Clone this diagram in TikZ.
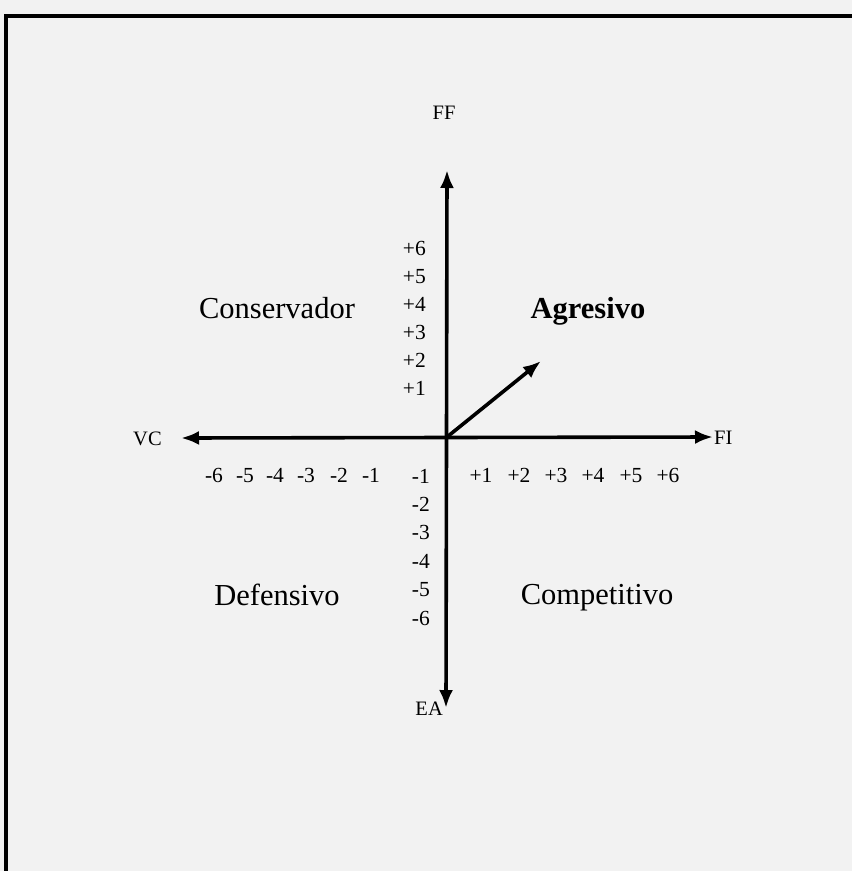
\documentclass[tikz,border=0pt]{standalone}
\usepackage{fontspec}
\setmainfont{Liberation Serif}
\usetikzlibrary{arrows.meta}
\begin{document}
\begin{tikzpicture}[x=1pt,y=-1pt,
  axis/.style={line width=3.6pt,{Latex[length=18pt,width=14pt]}-{Latex[length=18pt,width=14pt]}},
  oneway/.style={line width=3.6pt,-{Latex[length=18pt,width=14pt]}},
  ticklbl/.style={inner sep=0pt,text height=14.5pt,text depth=0.5pt,font=\fontsize{21.5}{21.5}\selectfont},
  axislbl/.style={inner sep=0pt,text height=14pt,text depth=0pt,font=\fontsize{20.5}{20.5}\selectfont},
  quad/.style={inner sep=0pt,anchor=base,font=\fontsize{30.5}{30.5}\selectfont},
  frameline/.style={line width=3.8pt}]
\fill[black!5] (0,0) rectangle (852,871);
\useasboundingbox (0,0) rectangle (852,871);
% frame
\coordinate (fTR) at (852,16);
\coordinate (fTL) at (6,16);
\coordinate (fBL) at (6,871);
\draw[frameline] (fTR) -- (fTL) -- (fBL);
% axes
\coordinate (O) at (447,437);
\coordinate (top) at (447,170);
\coordinate (bot) at (446,708);
\coordinate (left) at (181,438);
\coordinate (right) at (713,437);
\coordinate (vec) at (541,361);
\draw[axis] (left) -- (right);
\draw[axis] (top) -- (bot);
\draw[oneway] (O) -- (vec);
% axis labels
\node[axislbl] (FF) at (444,112) {FF};
\node[axislbl,anchor=west] (VC) at (133,438) {VC};
\node[axislbl,anchor=west] (FI) at (714,437) {FI};
\node[axislbl,anchor=east] (EA) at (443,708) {EA};
% vertical ticks
\node[ticklbl,anchor=east] (p6) at (426,248) {+6};
\node[ticklbl,anchor=east] (p5) at (426,276) {+5};
\node[ticklbl,anchor=east] (p4) at (426,304) {+4};
\node[ticklbl,anchor=east] (p3) at (426,332) {+3};
\node[ticklbl,anchor=east] (p2) at (426,360) {+2};
\node[ticklbl,anchor=east] (p1) at (426,388) {+1};
\node[ticklbl,anchor=east] (m1) at (430,476) {-1};
\node[ticklbl,anchor=east] (m2) at (430,504) {-2};
\node[ticklbl,anchor=east] (m3) at (430,532) {-3};
\node[ticklbl,anchor=east] (m4) at (430,561) {-4};
\node[ticklbl,anchor=east] (m5) at (430,589) {-5};
\node[ticklbl,anchor=east] (m6) at (430,618) {-6};
% horizontal ticks
\node[ticklbl] (h6) at (214,475) {-6};
\node[ticklbl] (h5) at (245,475) {-5};
\node[ticklbl] (h4) at (275,475) {-4};
\node[ticklbl] (h3) at (306,475) {-3};
\node[ticklbl] (h2) at (339,475) {-2};
\node[ticklbl] (h1) at (371,475) {-1};
\node[ticklbl] (g1) at (481,475) {+1};
\node[ticklbl] (g2) at (519,475) {+2};
\node[ticklbl] (g3) at (556,475) {+3};
\node[ticklbl] (g4) at (593,475) {+4};
\node[ticklbl] (g5) at (631,475) {+5};
\node[ticklbl] (g6) at (668,475) {+6};
% quadrant labels
\node[quad] (cons) at (277,318) {Conservador};
\node[quad,font=\fontsize{30.5}{30.5}\selectfont\bfseries] (agr) at (588,318) {Agresivo};
\node[quad] (def) at (277,605) {Defensivo};
\node[quad] (comp) at (597,604) {Competitivo};
\end{tikzpicture}
\end{document}
